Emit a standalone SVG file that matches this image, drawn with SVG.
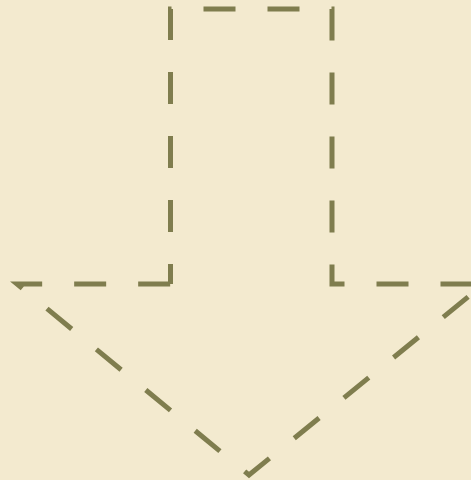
<svg xmlns="http://www.w3.org/2000/svg" width="471" height="480" viewBox="0 0 471 480">
  <style>
    .bg { fill: #f3eacf; }
    .arrow { fill: none; stroke: #7f7d4e; stroke-width: 5; stroke-dasharray: 32 32; stroke-dashoffset: 12; stroke-linecap: butt; stroke-linejoin: miter; }
  </style>
  <rect class="bg" x="0" y="0" width="471" height="480"/>
  <g id="arrow-outline">
    <path class="arrow" d="M170.5,284 V9 H332 V284 H484 L249,475 L17,284 Z"/>
  </g>
</svg>
